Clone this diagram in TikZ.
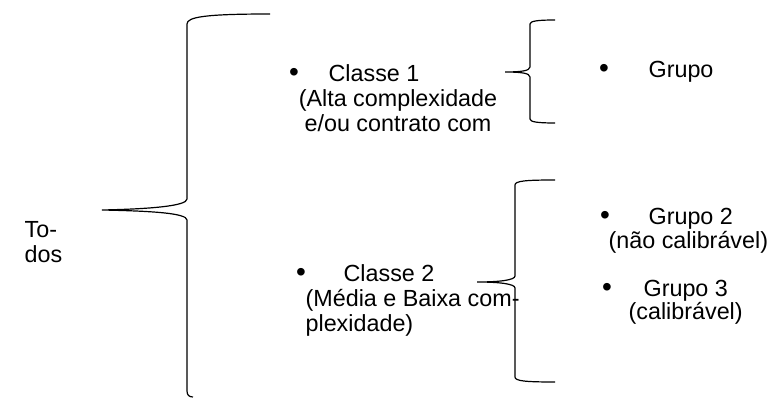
\documentclass[tikz,border=0pt]{standalone}
\usepackage{fontspec}
\setmainfont{Liberation Sans}

\begin{document}
\begin{tikzpicture}[x=0.75pt, y=-0.75pt, line width=0.9pt,
  font=\fontsize{17.5}{18.75}\selectfont,
  txt/.style={inner sep=0pt, anchor=base west},
  dot/.style={inner sep=0pt, anchor=base, font=\fontsize{21}{22}\selectfont}]
%%%
\useasboundingbox (0,0) rectangle (773,398);

% root (base = last line)
\node[txt, align=left] (T) at (24,263) {To-\\dos};

% classes
\node[dot] (b1) at (294,82) {\textbullet};
\node[txt] (C1) at (328,82) {Classe 1};
\node[inner sep=0pt, anchor=base, align=center] (D1) at (398,132) {(Alta complexidade\\e/ou contrato com};

\node[dot] (b2) at (301,282) {\textbullet};
\node[txt] (C2) at (343,282) {Classe 2};
\node[txt, align=left] (D2) at (305,331) {(Média e Baixa com-\\plexidade)};

% groups
\node[dot] (bg1) at (604,78) {\textbullet};
\node[txt] (G1) at (648,78) {Grupo};

\node[dot] (bg2) at (605,225) {\textbullet};
\node[txt] (G2) at (648,225) {Grupo 2};
\node[txt] (N2) at (608,249) {(não calibrável)};

\node[dot] (bg3) at (607,297) {\textbullet};
\node[txt] (G3) at (643,297) {Grupo 3};
\node[txt] (N3) at (628,320) {(calibrável)};

% brace tips
\coordinate (tipA) at (102,210);
\coordinate (tipB) at (505,72);
\coordinate (tipC) at (477,282);

% big brace
\draw (270,14) .. controls (205,14) and (187,17) .. (187,24) -- (187,199)
  .. controls (187,206) and (150,209) .. (tipA)
  .. controls (150,211) and (187,213) .. (187,220) -- (187,391)
  .. controls (187,395) and (189,397) .. (193,397);

% brace of Classe 1
\draw (555,20) .. controls (538,20) and (530,21) .. (530,24) -- (530,67)
  .. controls (530,71) and (520,72) .. (tipB)
  .. controls (520,72) and (530,73) .. (530,77) -- (530,119)
  .. controls (530,122) and (538,123) .. (555,123);

% brace of Classe 2
\draw (555,180) .. controls (525,180) and (515,181) .. (515,185) -- (515,276)
  .. controls (515,280) and (500,282) .. (tipC)
  .. controls (500,282) and (515,284) .. (515,288) -- (515,377)
  .. controls (515,381) and (525,382) .. (555,382);
%%%
\end{tikzpicture}
\end{document}
